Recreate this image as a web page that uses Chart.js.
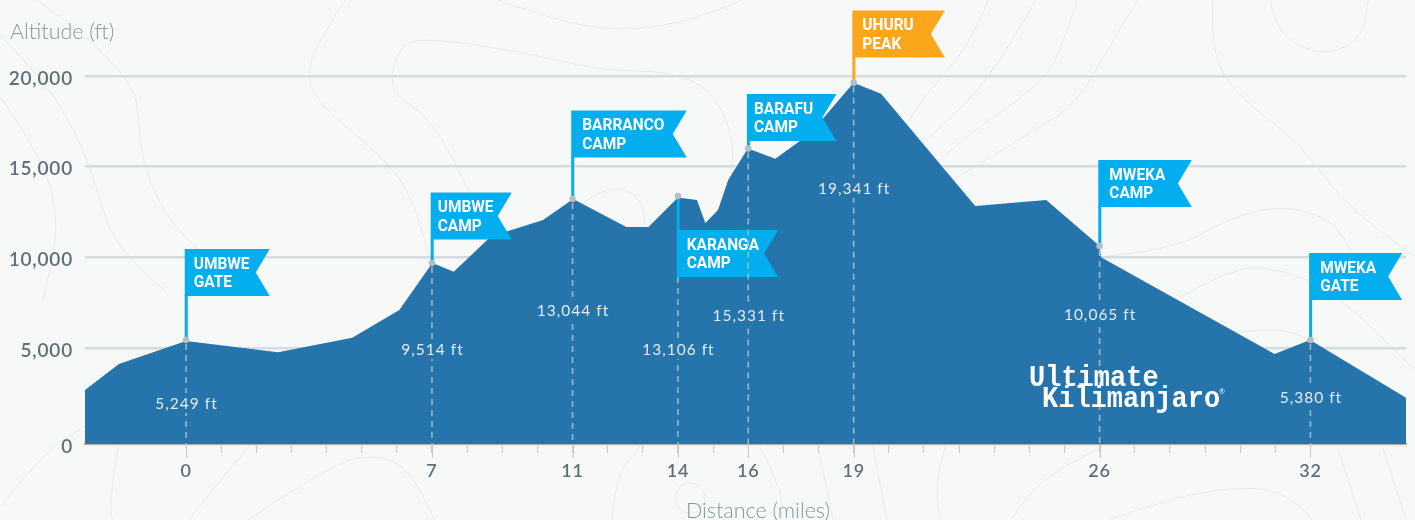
<!DOCTYPE html>
<html>
<head>
<meta charset="utf-8">
<style>html,body{margin:0;padding:0;background:#f7f9f9;overflow:hidden}canvas{display:block}</style>
<script src="https://cdn.jsdelivr.net/npm/chart.js@4"></script>
</head>
<body>
<canvas id="c" width="1415" height="520"></canvas>
<script>
// ---- profile data (miles, feet)
const profileMiles = [-2.875,-1.91,0,2.62,4.73,6.07,7.01,7.62,8.66,9.17,10.16,11.02,12.53,13.16,14.0,14.54,14.78,15.14,15.43,15.99,16.77,17.48,18.14,19,19.78,22.46,24.48,26,26.04,30.98,31.99,34.72];
const profileFeet  = [2690,4124,5392,4769,5574,7100,9692,9212,11125,11456,12062,13220,11676,11676,13303,13165,11897,12614,14268,16004,15442,16434,17686,19632,19026,12834,13165,10629,10006,4675,5447,2266];
// ---- camps
const campMiles = [0,7,11,14,16,19,26,32];
const campFeet  = [5447,9692,13220,13386,16004,19632,10629,5447];
const campLine1 = ['UMBWE','UMBWE','BARRANCO','KARANGA','BARAFU','UHURU','MWEKA','MWEKA'];
const campLine2 = ['GATE','CAMP','CAMP','CAMP','CAMP','PEAK','CAMP','GATE'];
const campAltitudeText = ['5,249 ft','9,514 ft','13,044 ft','13,106 ft','15,331 ft','19,341 ft','10,065 ft','5,380 ft'];
// ---- axes
const yTicks = [-290,5000,10000,15000,20000];
const xLabelled = [0,7,11,14,16,19,26,32];
const xTicks = [0,1,2,3,4,5,6,7,8,9,10,11,12,13,14,15,16,17,18,19,20,21,22,23,24,25,26,27,28,29,30,31,32];

// ---- styles (pixels)
const flagTop   = [249,192.5,110.5,230,94,10.5,160,253];
const flagWidth = [85,81,115.5,101.5,89.5,92.5,93.5,93];
const flagPad   = [9,7,11,10,7,10,11,11];
const flagColor = ['#03aeef','#03aeef','#03aeef','#03aeef','#03aeef','#fca61c','#03aeef','#03aeef'];
const altTextY  = [404,350,311,350,316,189,315,398];
const contours = [
 [[37,0],[85,35],[133,85],[139,117],[141,157],[163,213],[207,260],[270,293]],
 [[0,35],[43,80],[75,130],[97,187],[110,233],[135,265],[167,293]],
 [[0,97],[43,157],[60,227],[43,300]],
 [[345,0],[320,40],[308,67],[313,100],[387,160],[413,200],[430,260]],
 [[475,204],[450,150],[421,111],[396,96],[391,79],[398,50],[418,37],[514,50],[603,71],[668,71],[711,89],[732,132],[733,168],[728,193]],
 [[498,0],[560,22],[621,31],[685,22],[743,0]],
 [[575,211],[590,197],[614,187],[636,194],[646,214],[643,236]],
 [[988,0],[972,43],[927,93],[907,123]],
 [[1036,0],[1013,40],[977,93],[923,143]],
 [[1077,0],[1060,57],[1033,90],[970,133],[940,160]],
 [[1138,0],[1113,40],[1077,103],[1040,127],[953,180]],
 [[1213,0],[1210,43],[1230,90],[1300,143],[1343,203],[1415,257]],
 [[1270,0],[1277,37],[1327,57],[1363,37],[1368,0]],
 [[1100,257],[1173,250],[1225,220],[1277,205],[1330,217],[1353,253]],
 [[1180,297],[1225,272],[1267,265],[1333,290],[1415,370]],
 [[1233,332],[1277,328],[1310,338],[1360,375]],
 [[0,507],[43,453],[85,426]],[[118,447],[110,497],[112,520]],[[188,520],[250,445]],
 [[248,520],[333,463],[377,454],[410,470],[435,520]],
 [[612,520],[615,477],[640,447]],[[760,447],[782,490],[782,520]],[[818,447],[833,520]],[[873,447],[887,520]],[[945,447],[935,480],[940,520]],
 [[1100,448],[1043,476],[1011,520]],[[1108,520],[1185,493],[1262,486],[1294,500],[1312,520]],[[1338,448],[1361,520]],[[1383,448],[1406,520]]
];

const decor = {
 id:'decor',
 beforeDraw(chart){
  const c = chart.ctx;
  c.save();
  c.fillStyle = '#f7f9f9'; c.fillRect(0,0,chart.width,chart.height);
  c.strokeStyle = '#e8ebec'; c.lineWidth = 1;
  contours.forEach(p=>{
    c.beginPath(); c.moveTo(p[0][0],p[0][1]);
    for(let i=1;i<p.length-1;i++){
      const mx=(p[i][0]+p[i+1][0])/2,my=(p[i][1]+p[i+1][1])/2;
      c.quadraticCurveTo(p[i][0],p[i][1],mx,my);
    }
    const l=p[p.length-1]; c.lineTo(l[0],l[1]); c.stroke();
  });
  c.beginPath(); c.arc(690,498,15,0,Math.PI*2); c.stroke();
  c.restore();
  c.letterSpacing='0.8px';
 },
 afterDraw(chart){
  const c = chart.ctx, X = chart.scales.x, Y = chart.scales.y, base = Y.getPixelForValue(-290);
  c.letterSpacing='0px';
  c.save();
  // long ticks under labelled miles
  c.strokeStyle='#c3cbcf'; c.lineWidth=1;
  xLabelled.forEach(v=>{const x=Math.round(X.getPixelForValue(v))+.5;c.beginPath();c.moveTo(x,base);c.lineTo(x,458);c.stroke();});
  campMiles.forEach((m,i)=>{
    const x=X.getPixelForValue(m), y=Y.getPixelForValue(campFeet[i]);
    // dashed drop line
    c.strokeStyle='#a3b9cb'; c.lineWidth=1.5; c.setLineDash([6,5]);
    c.beginPath(); c.moveTo(x,y+4); c.lineTo(x,base); c.stroke(); c.setLineDash([]);
    // altitude text
    c.font='15.5px Lato'; c.letterSpacing='1px'; c.textAlign='center'; c.textBaseline='middle';
    const w=c.measureText(campAltitudeText[i]).width;
    c.fillStyle='#2574ab'; c.fillRect(x-w/2-2,altTextY[i]-11,w+4,20);
    c.fillStyle='#e4edf3'; c.fillText(campAltitudeText[i],x+.5,altTextY[i]);
    c.letterSpacing='0px';
    // pole + flag
    const fx=x-1.3, t=flagTop[i], h=47, fw=flagWidth[i];
    c.fillStyle=flagColor[i];
    if(t>y){ c.fillRect(fx,y,3,t-y);} else { c.fillRect(fx,t+h-1,3,y-t-h+1);}
    c.beginPath(); c.moveTo(fx,t); c.lineTo(fx+fw,t); c.lineTo(fx+fw-14,t+h/2); c.lineTo(fx+fw,t+h); c.lineTo(fx,t+h); c.closePath(); c.fill();
    c.fillStyle='#fff'; c.font='bold 17px Roboto'; c.textAlign='left'; c.textBaseline='middle';
    c.save(); c.translate(fx+flagPad[i],t); c.scale(.91,1);
    c.fillText(campLine1[i],0,15.5);
    c.fillText(campLine2[i],0,34);
    c.restore();
    // point
    c.fillStyle='#b7bec2'; c.beginPath(); c.arc(x,y,3.3,0,Math.PI*2); c.fill();
  });
  // titles
  c.fillStyle='#87959a'; c.font='300 21.5px Lato'; c.textAlign='left'; c.textBaseline='middle';
  c.fillText('Altitude (ft)',10,32);
  c.textAlign='center'; c.fillText('Distance (miles)',758,511);
  // logo
  c.fillStyle='#fff'; c.textAlign='left'; c.textBaseline='alphabetic';
  c.font='bold 27px "Liberation Mono"';
  c.save(); c.translate(1029,386); c.scale(1,1.12); c.fillText('Ultimate',0,0); c.restore();
  c.save(); c.translate(1042,407); c.scale(1,1.12); c.fillText('Kilimanjaro',0,0); c.restore();
  c.font='7px Lato'; c.fillText('®',1219,394);
  c.restore();
 }
};

new Chart(document.getElementById('c'),{
 type:'line',
 data:{labels:profileMiles,datasets:[{
   data:profileMiles.map((m,i)=>({x:m,y:profileFeet[i]})),
   fill:'start',backgroundColor:'#2574ab',borderWidth:0,borderColor:'#2574ab',pointRadius:0,tension:0
 }]},
 plugins:[decor],
 options:{
  responsive:false,animation:false,
  layout:{padding:{top:76,right:9,left:0,bottom:0}},
  plugins:{legend:{display:false},tooltip:{enabled:false},title:{display:false}},
  scales:{
   x:{type:'linear',min:-2.875,max:34.72,
      afterBuildTicks:s=>{s.ticks=xTicks.map(v=>({value:v}));},
      afterFit:s=>{s.height=76;},
      border:{display:true,color:'#aab5bb',width:2},
      grid:{drawOnChartArea:false,drawTicks:true,tickLength:9,color:'#c3cbcf',lineWidth:1},
      ticks:{autoSkip:false,maxRotation:0,padding:7,color:'#5f6f75',font:{family:'Lato',size:18,weight:'600'},
        callback:v=>xLabelled.includes(v)?String(v):''}
   },
   y:{type:'linear',min:-290,max:20000,
      afterBuildTicks:s=>{s.ticks=yTicks.map(v=>({value:v}));},
      afterFit:s=>{s.width=85;},
      border:{display:false},
      grid:{drawTicks:false,color:'#d5dce0',lineWidth:2.5},
      ticks:{padding:12,color:'#5f6f75',font:{family:'Lato',size:19,weight:'600',lineHeight:'5px'},
        callback:v=>['',v<0?'0':v.toLocaleString('en-US')]}
   }
  }
 }
});
</script>
</body>
</html>
